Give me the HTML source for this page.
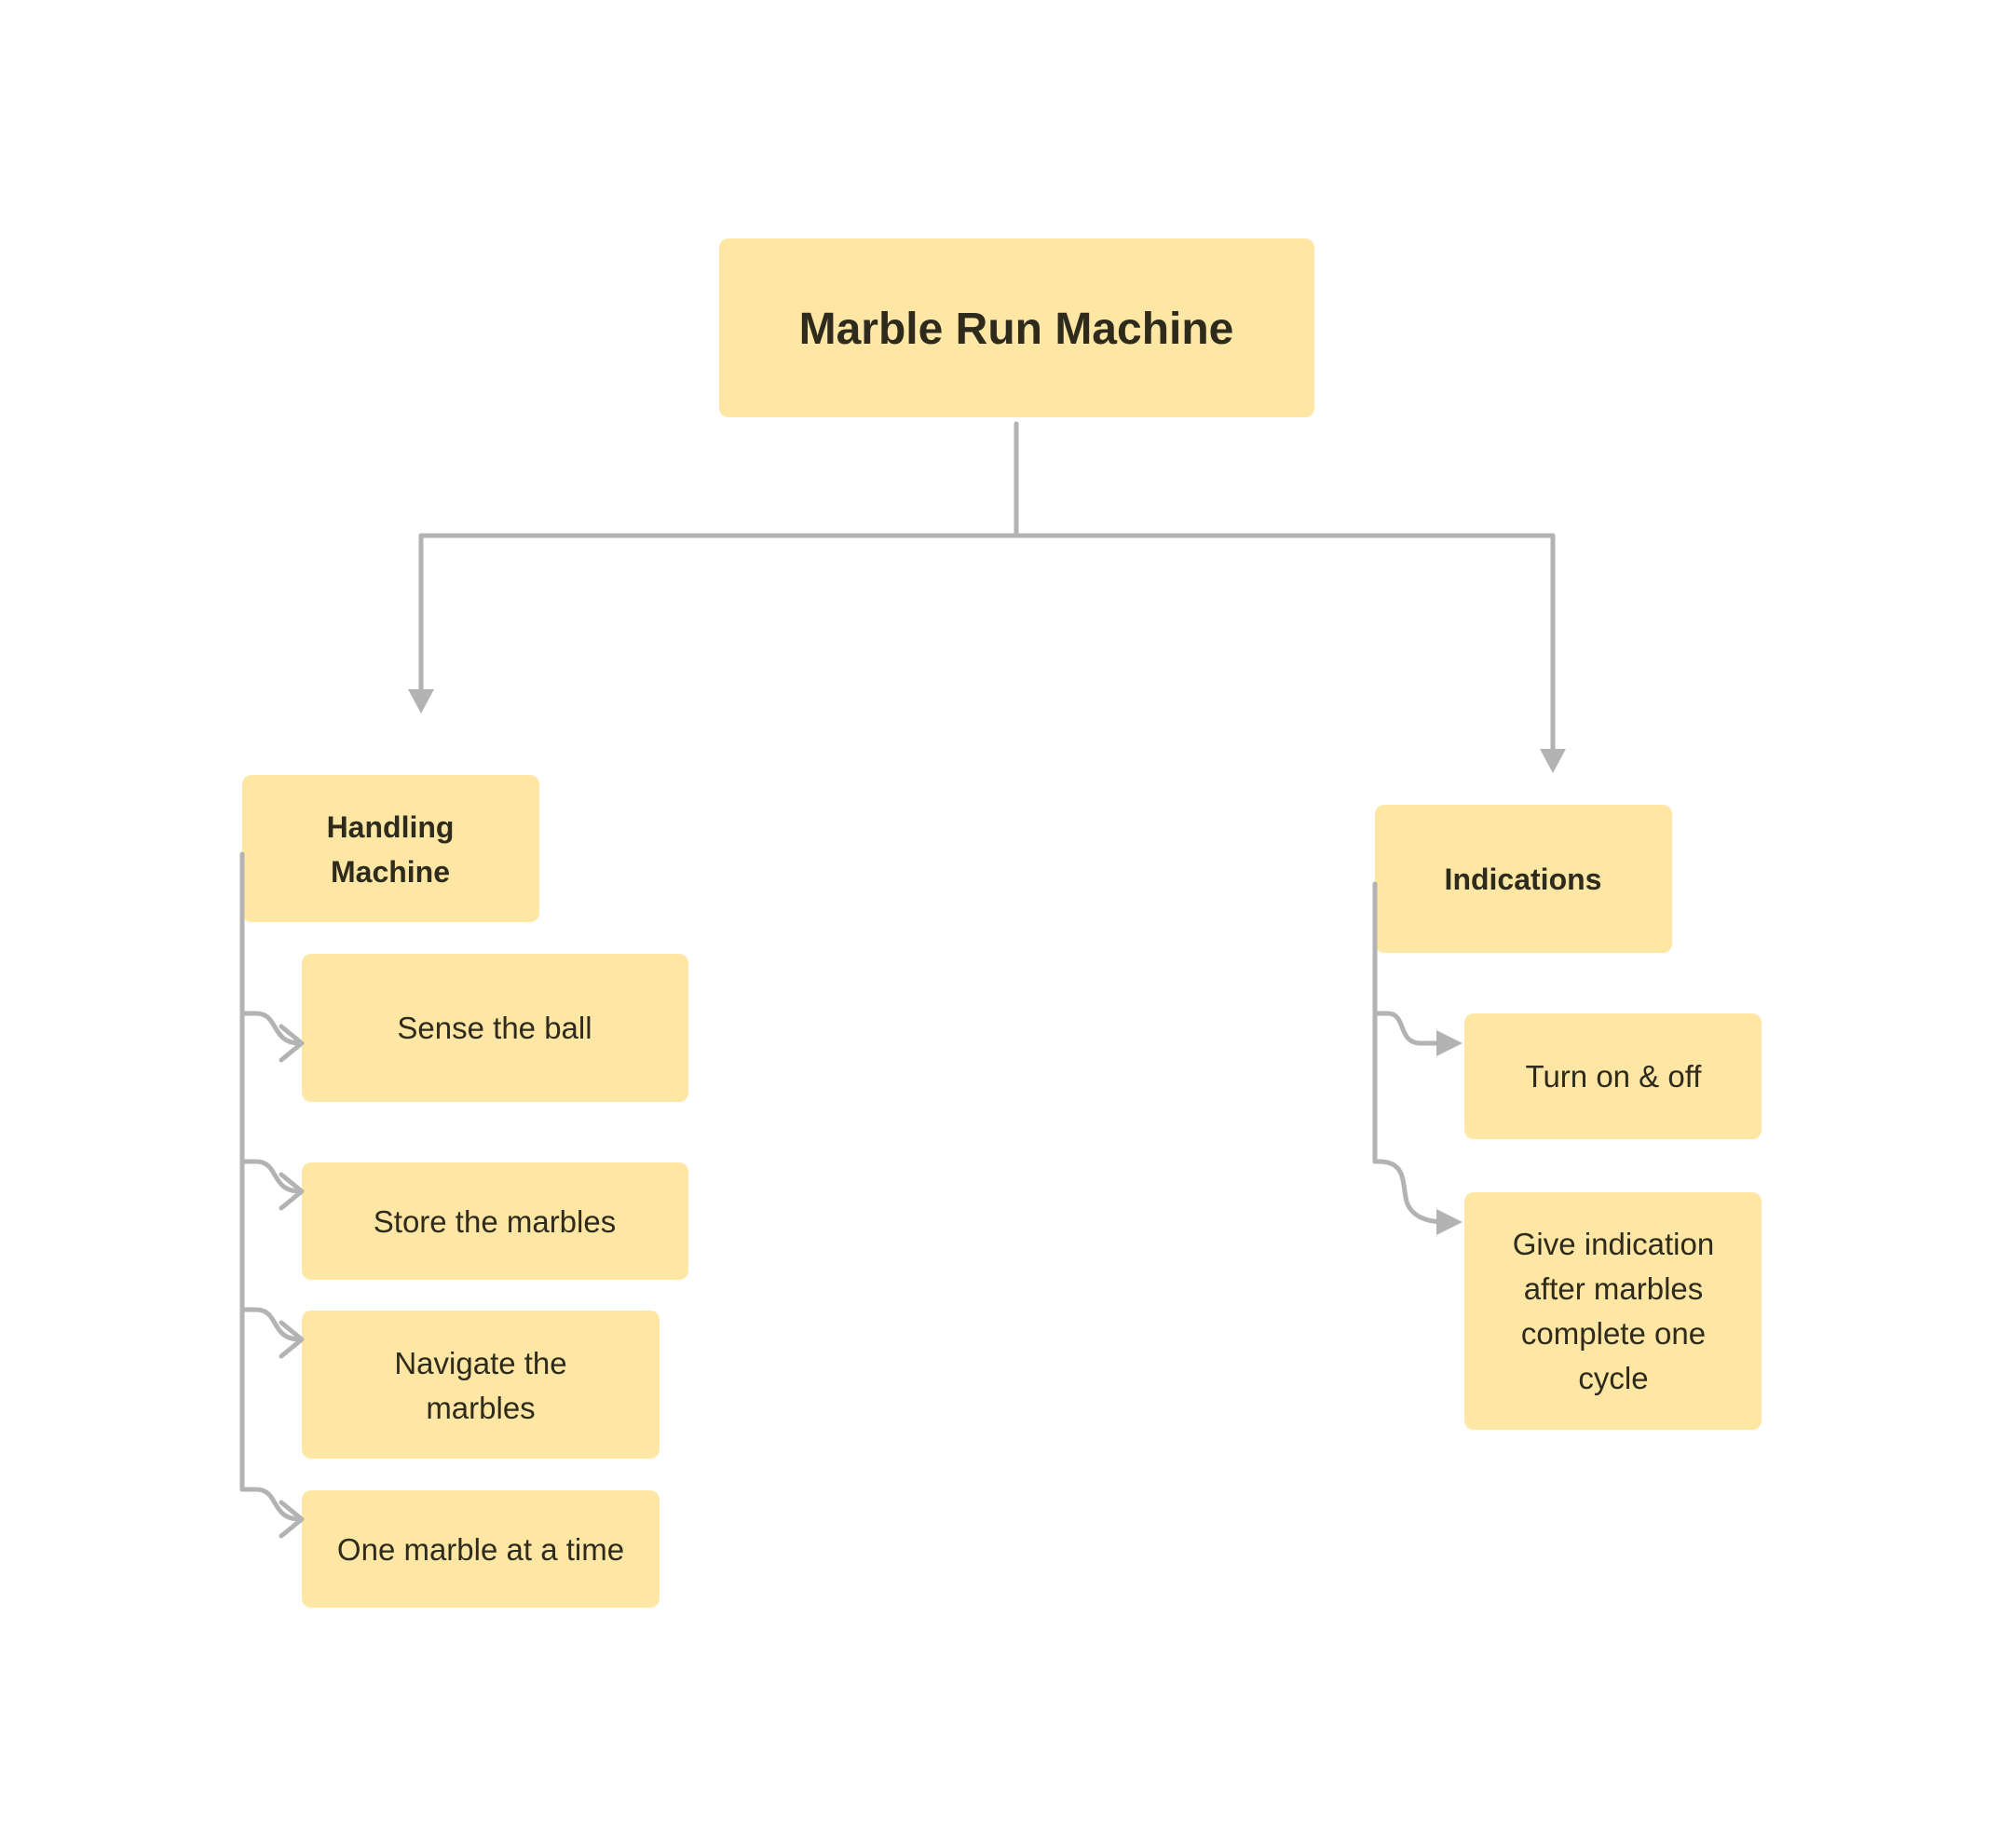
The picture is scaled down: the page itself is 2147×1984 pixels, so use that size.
<!DOCTYPE html>
<html><head><meta charset="utf-8"><style>
html,body{margin:0;padding:0;background:#fff;}
svg{display:block;}
text{font-family:"Liberation Sans",sans-serif;fill:#2e2a1c;text-anchor:middle;}
</style></head><body>
<svg width="2147" height="1984" viewBox="0 0 2147 1984" xmlns="http://www.w3.org/2000/svg">
<g fill="#fee7a4">
<rect x="772" y="256" width="639" height="192" rx="10"/>
<rect x="260" y="832" width="319" height="158" rx="10"/>
<rect x="1476" y="864" width="319" height="159" rx="10"/>
<rect x="324" y="1024" width="415" height="159" rx="10"/>
<rect x="324" y="1248" width="415" height="126" rx="10"/>
<rect x="324" y="1407" width="384" height="159" rx="10"/>
<rect x="324" y="1600" width="384" height="126" rx="10"/>
<rect x="1572" y="1088" width="319" height="135" rx="10"/>
<rect x="1572" y="1280" width="319" height="255" rx="10"/>
</g>
<g stroke="#b3b3b3" stroke-width="5" fill="none" stroke-linecap="round" stroke-linejoin="round">
<path d="M1091 455 V575"/>
<path d="M452 575 H1667"/>
<path d="M452 575 V745"/>
<path d="M1667 575 V810"/>
<path d="M260 917 V1599"/>
<path d="M260 1088 H275 C300 1088 290 1120 322 1120"/>
<path d="M260 1247 H275 C300 1247 290 1279 322 1279"/>
<path d="M260 1406 H275 C300 1406 290 1438 322 1438"/>
<path d="M260 1599 H275 C300 1599 290 1631 322 1631"/>
<path d="M302 1102 L324 1120 L302 1138 M302 1261 L324 1279 L302 1297 M302 1420 L324 1438 L302 1456 M302 1613 L324 1631 L302 1649"/>
<path d="M1476 949 V1247"/>
<path d="M1476 1088 H1490 C1510 1088 1500 1120 1525 1120 H1550"/>
<path d="M1476 1247 H1480 C1510 1247 1505 1270 1510 1290 C1515 1305 1530 1312 1550 1312"/>
</g>
<g fill="#b3b3b3">
<path d="M438 740 L466 740 L452 766 Z"/>
<path d="M1653 804 L1681 804 L1667 830 Z"/>
<path d="M1542 1106 L1570 1120 L1542 1134 Z"/>
<path d="M1542 1298 L1570 1312 L1542 1326 Z"/>
</g>
<text x="1091" y="369" font-size="48" font-weight="bold">Marble Run Machine</text>
<text x="419" y="899" font-size="32" font-weight="bold">Handling</text>
<text x="419" y="947" font-size="32" font-weight="bold">Machine</text>
<text x="1635" y="955" font-size="32" font-weight="bold">Indications</text>
<text x="531" y="1115" font-size="33">Sense the ball</text>
<text x="531" y="1323" font-size="33">Store the marbles</text>
<text x="516" y="1475" font-size="33">Navigate  the</text>
<text x="516" y="1523" font-size="33">marbles</text>
<text x="516" y="1675" font-size="33">One marble at a time</text>
<text x="1732" y="1167" font-size="33">Turn on &amp; off</text>
<text x="1732" y="1347" font-size="33">Give indication</text>
<text x="1732" y="1395" font-size="33">after marbles</text>
<text x="1732" y="1443" font-size="33">complete one</text>
<text x="1732" y="1491" font-size="33">cycle</text>
</svg>
</body></html>
